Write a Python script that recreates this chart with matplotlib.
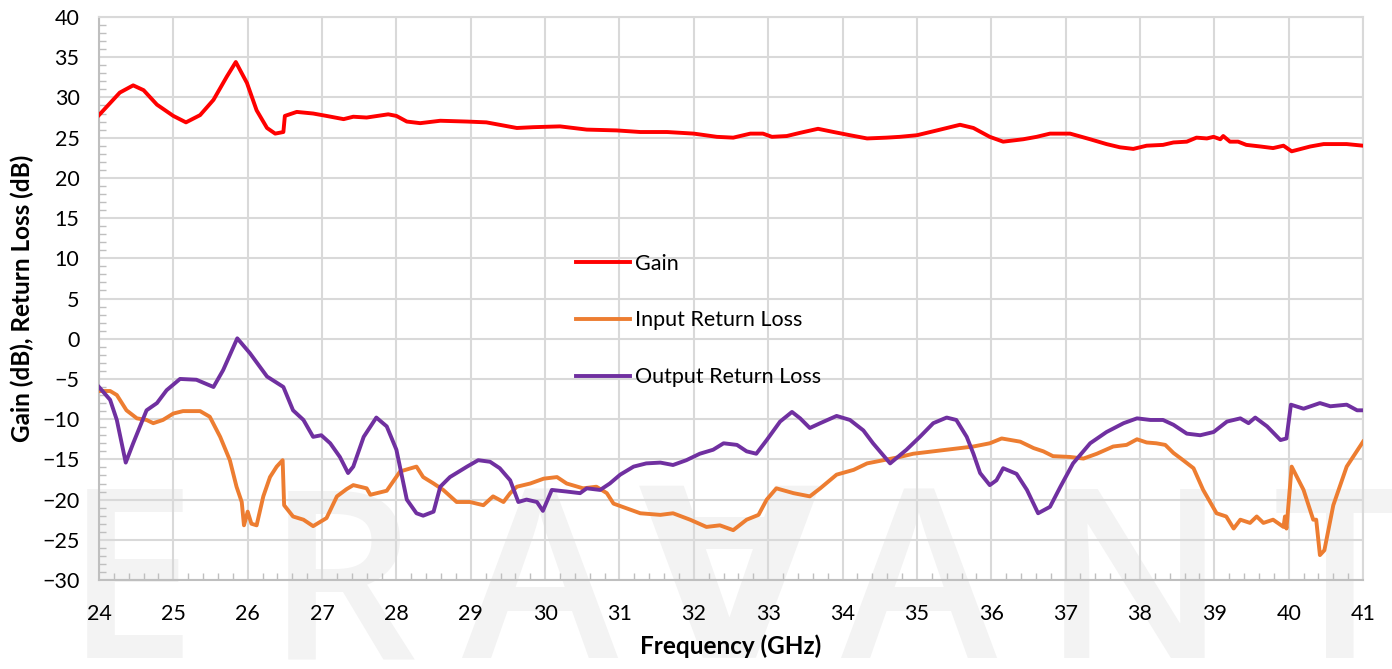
import matplotlib
matplotlib.use("Agg")
import matplotlib.pyplot as plt
from matplotlib.ticker import MultipleLocator
import numpy as np

plt.rcParams['font.family'] = ['Lato', 'DejaVu Sans']

# frequency (GHz) / dB
gain_f = [24.0, 24.15, 24.28, 24.46, 24.6, 24.78, 25.0, 25.17, 25.36, 25.54, 25.72, 25.84,
          25.99, 26.12, 26.26, 26.37, 26.48, 26.5, 26.66, 26.88, 27.06, 27.29, 27.42, 27.6,
          27.89, 28.0, 28.14, 28.32, 28.59, 28.95, 29.21, 29.62, 29.84, 30.2, 30.56, 30.96,
          31.28, 31.64, 32.0, 32.31, 32.53, 32.76, 32.93, 33.05, 33.25, 33.43, 33.67, 33.88,
          34.1, 34.33, 34.59, 34.77, 35.0, 35.27, 35.58, 35.76, 35.98, 36.16, 36.43, 36.61,
          36.79, 37.06, 37.33, 37.55, 37.73, 37.91, 38.09, 38.31, 38.45, 38.63, 38.76, 38.9,
          38.99, 39.08, 39.12, 39.21, 39.32, 39.43, 39.62, 39.79, 39.93, 40.04, 40.29, 40.47,
          40.78, 41.0]
gain_db = [27.8, 29.3, 30.6, 31.5, 30.9, 29.1, 27.7, 26.9, 27.8, 29.7, 32.6, 34.4,
           31.8, 28.4, 26.2, 25.5, 25.7, 27.7, 28.2, 28.0, 27.7, 27.3, 27.6, 27.5,
           27.9, 27.7, 27.0, 26.8, 27.1, 27.0, 26.9, 26.2, 26.3, 26.4, 26.0, 25.9,
           25.7, 25.7, 25.5, 25.1, 25.0, 25.5, 25.5, 25.1, 25.2, 25.6, 26.1, 25.7,
           25.3, 24.9, 25.0, 25.1, 25.3, 25.9, 26.6, 26.2, 25.1, 24.5, 24.8, 25.1,
           25.5, 25.5, 24.8, 24.2, 23.8, 23.6, 24.0, 24.1, 24.4, 24.5, 25.0, 24.9,
           25.1, 24.8, 25.2, 24.5, 24.5, 24.1, 23.9, 23.7, 24.0, 23.3, 23.9, 24.2,
           24.2, 24.0]

irl_f = [24.0, 24.15, 24.24, 24.37, 24.51, 24.64, 24.73, 24.86, 25.0, 25.13, 25.36, 25.49,
         25.63, 25.76, 25.85, 25.92, 25.95, 26.0, 26.05, 26.12, 26.21, 26.3, 26.39, 26.47,
         26.49, 26.61, 26.75, 26.88, 27.06, 27.2, 27.33, 27.42, 27.6, 27.65, 27.87, 28.05,
         28.27, 28.36, 28.5, 28.63, 28.81, 28.99, 29.17, 29.3, 29.44, 29.53, 29.62, 29.8,
         29.98, 30.16, 30.29, 30.51, 30.69, 30.83, 30.92, 31.1, 31.28, 31.55, 31.72, 31.95,
         32.17, 32.35, 32.53, 32.71, 32.87, 32.98, 33.11, 33.34, 33.56, 33.7, 33.92, 34.15,
         34.33, 34.55, 34.77, 34.95, 35.4, 35.76, 35.98, 36.14, 36.39, 36.57, 36.7, 36.83,
         37.06, 37.24, 37.42, 37.64, 37.82, 37.96, 38.09, 38.22, 38.34, 38.45, 38.58, 38.72,
         38.85, 39.03, 39.16, 39.26, 39.35, 39.48, 39.57, 39.66, 39.79, 39.93, 39.95, 39.97,
         40.04, 40.2, 40.33, 40.37, 40.42, 40.48, 40.6, 40.78, 41.0]
irl_db = [-6.5, -6.5, -7.0, -8.9, -9.9, -10.1, -10.5, -10.1, -9.3, -9.0, -9.0, -9.7,
          -12.2, -15.1, -18.4, -20.3, -23.2, -21.5, -23.0, -23.2, -19.6, -17.2, -15.9, -15.1,
          -20.7, -22.1, -22.5, -23.3, -22.3, -19.6, -18.7, -18.2, -18.6, -19.4, -18.9, -16.5,
          -15.9, -17.2, -18.0, -18.8, -20.3, -20.3, -20.7, -19.6, -20.3, -19.2, -18.4, -18.0,
          -17.4, -17.2, -18.0, -18.6, -18.4, -19.2, -20.5, -21.1, -21.7, -21.9, -21.7, -22.5,
          -23.4, -23.2, -23.8, -22.5, -21.9, -20.0, -18.6, -19.2, -19.6, -18.6, -16.9, -16.3,
          -15.5, -15.1, -14.7, -14.3, -13.8, -13.4, -13.0, -12.4, -12.8, -13.6, -14.0, -14.6,
          -14.7, -14.9, -14.3, -13.4, -13.2, -12.5, -12.9, -13.0, -13.2, -14.2, -15.1, -16.1,
          -18.8, -21.7, -22.1, -23.6, -22.5, -22.9, -22.1, -22.9, -22.5, -23.4, -22.1, -23.6,
          -15.9, -18.8, -22.5, -22.5, -26.9, -26.3, -20.7, -15.9, -12.8]

orl_f = [24.0, 24.15, 24.24, 24.36, 24.46, 24.64, 24.78, 24.91, 25.09, 25.31, 25.54, 25.67,
         25.86, 26.03, 26.26, 26.48, 26.61, 26.75, 26.88, 26.99, 27.11, 27.24, 27.35, 27.42,
         27.56, 27.73, 27.87, 28.0, 28.14, 28.27, 28.36, 28.5, 28.59, 28.72, 28.95, 29.1,
         29.26, 29.39, 29.53, 29.64, 29.75, 29.89, 29.97, 30.09, 30.29, 30.47, 30.56, 30.74,
         30.87, 31.01, 31.19, 31.36, 31.55, 31.72, 31.9, 32.08, 32.26, 32.4, 32.58, 32.71,
         32.84, 32.98, 33.16, 33.32, 33.43, 33.56, 33.7, 33.92, 34.1, 34.28, 34.41, 34.64,
         34.86, 35.04, 35.22, 35.4, 35.53, 35.67, 35.76, 35.85, 35.98, 36.07, 36.16, 36.34,
         36.48, 36.63, 36.79, 36.93, 37.1, 37.33, 37.55, 37.78, 37.96, 38.14, 38.31, 38.45,
         38.63, 38.81, 38.99, 39.17, 39.35, 39.46, 39.55, 39.71, 39.89, 39.97, 40.03, 40.2,
         40.42, 40.56, 40.78, 40.92, 41.0]
orl_db = [-6.0, -7.6, -10.1, -15.4, -13.0, -8.9, -8.0, -6.4, -5.0, -5.1, -6.0, -3.9,
          0.05, -1.8, -4.7, -6.0, -8.9, -10.1, -12.2, -12.0, -13.0, -14.7, -16.7, -15.9,
          -12.2, -9.8, -10.9, -13.8, -20.0, -21.7, -22.0, -21.5, -18.4, -17.2, -15.9, -15.1,
          -15.3, -16.1, -17.6, -20.3, -20.0, -20.3, -21.4, -18.8, -19.0, -19.2, -18.6, -18.8,
          -18.0, -16.9, -15.9, -15.5, -15.4, -15.7, -15.1, -14.3, -13.8, -13.0, -13.2, -14.0,
          -14.3, -12.6, -10.3, -9.1, -9.9, -11.1, -10.5, -9.6, -10.1, -11.4, -13.0, -15.5,
          -13.8, -12.2, -10.5, -9.8, -10.1, -12.2, -14.3, -16.7, -18.2, -17.6, -16.1, -16.8,
          -18.8, -21.7, -20.9, -18.4, -15.5, -13.0, -11.6, -10.5, -9.9, -10.1, -10.1, -10.7,
          -11.8, -12.0, -11.6, -10.3, -9.9, -10.5, -9.8, -10.9, -12.6, -12.4, -8.2, -8.7,
          -8.0, -8.4, -8.2, -8.9, -8.9]

watermark = ['E', 'R', 'A', '\u2200', 'A', 'N', 'T']
watermark_x = [0.094, 0.245, 0.388, 0.524, 0.66, 0.815, 0.962]

fig = plt.figure(figsize=(13.92, 6.69), dpi=100)

# faint logo behind the plot
for ch, xp in zip(watermark, watermark_x):
    fig.text(xp, 0.016, ch, fontsize=170, color='#f3f3f3', ha='center', va='baseline',
             family=['Open Sans', 'DejaVu Sans'], fontweight='semibold', zorder=-5)

ax = fig.add_axes([0.0711, 0.133, 0.9081, 0.8416], zorder=2)
ax.patch.set_alpha(0)

ax.plot(gain_f, gain_db, color='#ff0000', lw=2.8, label='Gain', zorder=3)
ax.plot(irl_f, irl_db, color='#ed7d31', lw=2.8, label='Input Return Loss', zorder=3)
ax.plot(orl_f, orl_db, color='#7030a0', lw=2.8, label='Output Return Loss', zorder=3)

ax.set_xlim(24, 41)
ax.set_ylim(-30, 40)
ax.xaxis.set_major_locator(MultipleLocator(1))
ax.xaxis.set_minor_locator(MultipleLocator(0.2))
ax.yaxis.set_major_locator(MultipleLocator(5))
ax.yaxis.set_minor_locator(MultipleLocator(1))
ax.grid(True, which='major', color='#d9d9d9', lw=1.5, zorder=1)

for s in ['top', 'right']:
    ax.spines[s].set_color('#d9d9d9')
    ax.spines[s].set_linewidth(1.5)
for s in ['left', 'bottom']:
    ax.spines[s].set_color('#bfbfbf')
    ax.spines[s].set_linewidth(1.5)

ax.tick_params(which='major', direction='in', length=0, labelsize=15.5)
ax.tick_params(which='minor', direction='in', length=5, width=1, color='#bfbfbf')
ax.tick_params(axis='x', which='major', pad=17)
ax.tick_params(axis='y', which='major', pad=14)

ax.set_xlabel('Frequency (GHz)', fontsize=17.5, fontweight='bold', labelpad=8)
ax.set_ylabel('Gain (dB), Return Loss (dB)', fontsize=17.5, fontweight='bold', labelpad=6)

ax.legend(loc='center left', bbox_to_anchor=(0.362, 0.461), frameon=False, fontsize=15.5,
          handlelength=2.5, handletextpad=0.25, labelspacing=1.7)

fig.savefig('out.png', dpi=100)
